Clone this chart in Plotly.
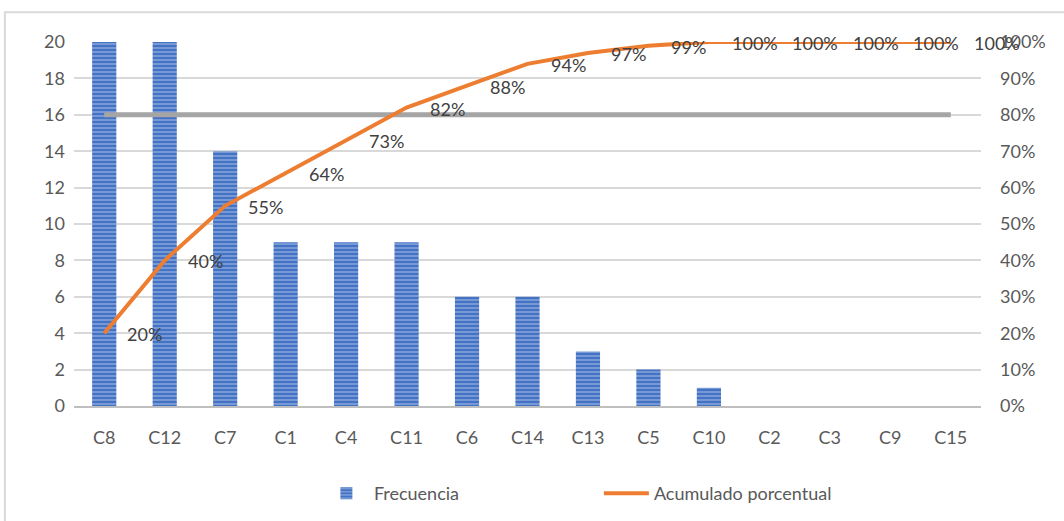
import plotly.graph_objects as go

# Pareto data
categorias = ["C8", "C12", "C7", "C1", "C4", "C11", "C6", "C14", "C13", "C5", "C10", "C2", "C3", "C9", "C15"]
frecuencia = [20, 20, 14, 9, 9, 9, 6, 6, 3, 2, 1, 0, 0, 0, 0]
acumulado = [0.20, 0.40, 0.55, 0.64, 0.73, 0.82, 0.88, 0.94, 0.97, 0.99, 1.00, 1.00, 1.00, 1.00, 1.00]
etiquetas_acum = ["20%", "40%", "55%", "64%", "73%", "82%", "88%", "94%", "97%", "99%", "100%", "100%", "100%", "100%", "100%"]
umbral = [0.80] * len(categorias)

FONT = "Lato"
TXT = "#595959"

fig = go.Figure()

fig.add_trace(go.Bar(
    x=categorias, y=frecuencia, name="Frecuencia",
    marker=dict(
        color="#4472C4",
        line=dict(width=0),
        pattern=dict(shape="-", fgcolor="#B4C7EA", bgcolor="#4472C4",
                     size=4, solidity=0.45, fillmode="overlay"),
    ),
    yaxis="y",
))

fig.add_trace(go.Scatter(
    x=categorias, y=umbral, mode="lines", showlegend=False,
    line=dict(color="#A5A5A5", width=5), yaxis="y2", hoverinfo="skip",
))

fig.add_trace(go.Scatter(
    x=categorias, y=acumulado, mode="lines", name="Acumulado porcentual",
    line=dict(color="#ED7D31", width=4),
    yaxis="y2", cliponaxis=False,
))

# data labels to the right of each cumulative point
for cat, val, lab in zip(categorias, acumulado, etiquetas_acum):
    fig.add_annotation(
        x=cat, y=val, xref="x", yref="y2", text=lab, showarrow=False,
        xanchor="left", yanchor="middle", xshift=21, yshift=-1,
        font=dict(family=FONT, size=18, color="#404040"),
    )

# outer chart frame (top and left edges)
fig.add_shape(type="path", xref="paper", yref="paper",
              path="M -0.0762,-0.32 L -0.0762,1.082 L 1.2,1.082",
              line=dict(color="#D9D9D9", width=2))

fig.update_layout(
    width=1064, height=521,
    margin=dict(l=74, r=83, t=42, b=115, autoexpand=False),
    paper_bgcolor="white", plot_bgcolor="white",
    bargap=0.6,
    font=dict(family=FONT, size=18, color=TXT),
    xaxis=dict(
        range=[-0.5, len(categorias) - 0.5], autorange=False,
        showgrid=False, showline=True, linecolor="#BFBFBF", linewidth=2,
        ticks="", tickfont=dict(family=FONT, size=18, color=TXT),
        ticklabelstandoff=14, automargin=False,
    ),
    yaxis=dict(
        range=[0, 20], autorange=False, dtick=2, showgrid=True,
        gridcolor="#D9D9D9", gridwidth=1.5,
        zeroline=False, showline=False, ticks="",
        tickfont=dict(family=FONT, size=18, color=TXT),
        ticklabelstandoff=8, automargin=False,
    ),
    yaxis2=dict(
        range=[0, 1], autorange=False, dtick=0.1, tickformat=".0%",
        overlaying="y", side="right",
        showgrid=False, zeroline=False, showline=False, ticks="",
        tickfont=dict(family=FONT, size=18, color=TXT),
        ticklabelstandoff=18, automargin=False,
    ),
    legend=dict(
        orientation="h", x=0.27, xanchor="left", y=-0.19, yanchor="top",
        font=dict(family=FONT, size=18, color=TXT),
        itemwidth=45, tracegroupgap=0, entrywidth=220,
    ),
    showlegend=True,
)

fig.write_html("out.html")
